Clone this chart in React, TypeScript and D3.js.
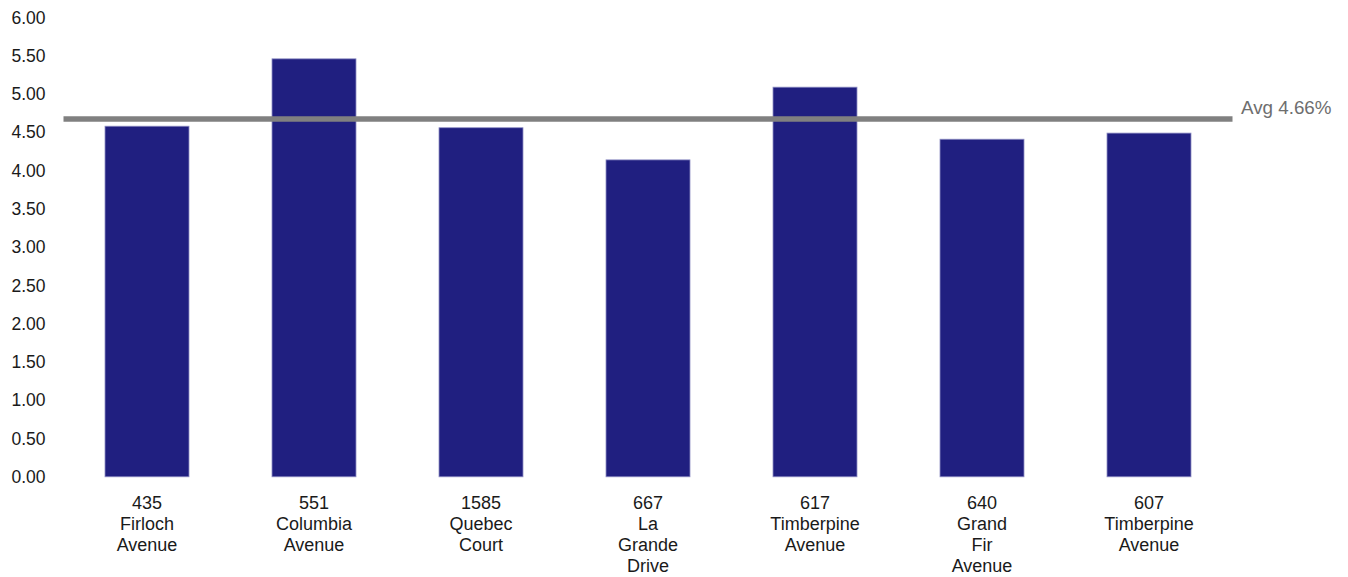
import React from "react";
import * as d3 from "d3";

const categories: string[][] = [
  ["435", "Firloch", "Avenue"],
  ["551", "Columbia", "Avenue"],
  ["1585", "Quebec", "Court"],
  ["667", "La", "Grande", "Drive"],
  ["617", "Timberpine", "Avenue"],
  ["640", "Grand", "Fir", "Avenue"],
  ["607", "Timberpine", "Avenue"],
];
const values: number[] = [4.58, 5.46, 4.56, 4.14, 5.09, 4.41, 4.49];
const average = 4.66;
const avgLabel = "Avg 4.66%";
const yTicks: number[] = [0, 0.5, 1, 1.5, 2, 2.5, 3, 3.5, 4, 4.5, 5, 5.5, 6];

const W = 1348;
const H = 577;
const FONT = "'Liberation Sans', Arial, Helvetica, sans-serif";

export default function App() {
  const keys = categories.map((c) => c.join(" "));
  const x = d3.scaleBand<string>().domain(keys).range([63.5, 1232.5]).paddingInner(0.497).paddingOuter(0.2485);
  const y = d3.scaleLinear().domain([0, 6]).range([476.8, 17.5]);
  const lineH = 21;
  return (
    <svg width={W} height={H} style={{ position: "absolute", left: 0, top: 0 }} fontFamily={FONT}>
      {yTicks.map((t) => (
        <text key={t} x={45.5} y={y(t)} dy="0.35em" textAnchor="end" fontSize={17.5} fill="#1a1a1a">
          {t.toFixed(2)}
        </text>
      ))}
      {values.map((v, i) => (
        <rect
          key={keys[i]}
          x={x(keys[i])!}
          y={y(v)}
          width={x.bandwidth()}
          height={y(0) - y(v)}
          fill="#201f80"
          stroke="#8f8fc4"
          strokeWidth={0.8}
        />
      ))}
      <line x1={x.range()[0]} x2={x.range()[1]} y1={y(average) - 1} y2={y(average) - 1} stroke="#808080" strokeWidth={5.5} />
      <text x={1241} y={y(average) - 6} fontSize={18.8} fill="#6e6e6e">
        {avgLabel}
      </text>
      {categories.map((lines, i) => (
        <text key={keys[i]} textAnchor="middle" fontSize={18} fill="#1a1a1a">
          {lines.map((l, j) => (
            <tspan key={j} x={x(keys[i])! + x.bandwidth() / 2} y={503 + j * lineH} dy="0.35em">
              {l}
            </tspan>
          ))}
        </text>
      ))}
    </svg>
  );
}
